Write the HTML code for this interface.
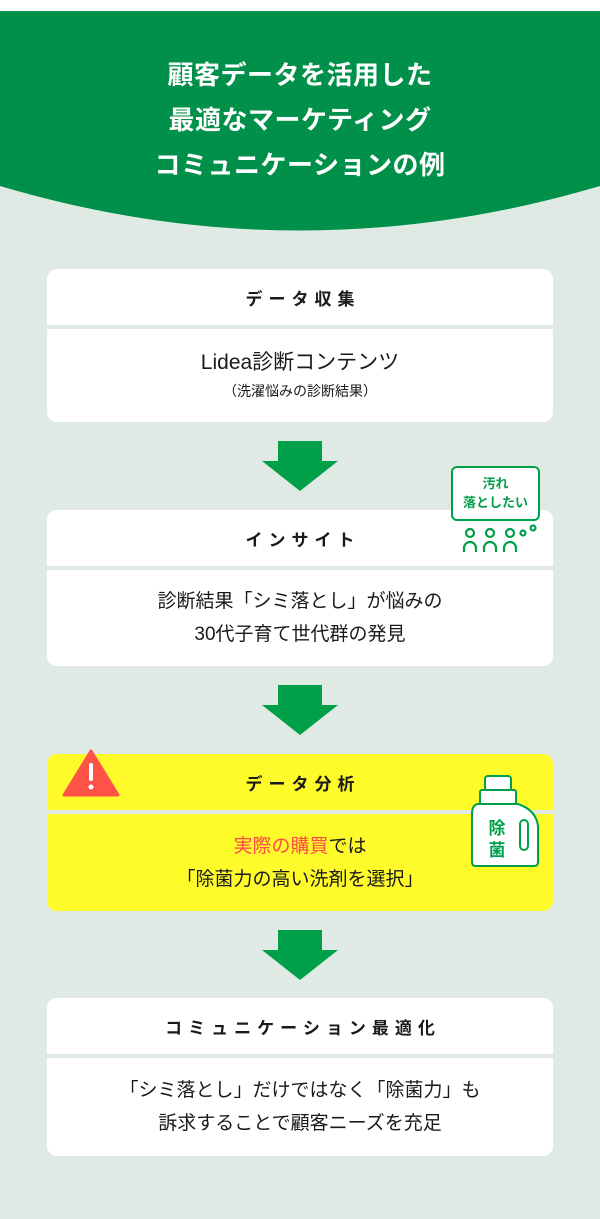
<!DOCTYPE html>
<html><head><meta charset="utf-8"><style>
*{margin:0;padding:0;box-sizing:border-box}
body{width:600px;height:1219px;background:#e0eae5;position:relative;overflow:hidden;font-family:"Liberation Sans","Noto Sans CJK JP",sans-serif;color:#1a1a1a}
.abs{position:absolute}
.box{position:absolute;left:47px;width:506px;background:#fff;border-radius:10px;overflow:hidden}
.box .hd{position:absolute;left:0;right:0;top:0;height:56px;display:flex;align-items:center;justify-content:center;font-weight:bold;font-size:17px;letter-spacing:6px;padding-left:6px}
.box .dv{position:absolute;left:0;right:0;top:56px;height:4px;background:#e0eae5}
.box .bd{position:absolute;left:0;right:0;top:60px;bottom:0;display:flex;flex-direction:column;align-items:center;justify-content:center;text-align:center;font-size:20px;line-height:34px}
.tc{position:absolute;width:600px;text-align:center;color:#fff;font-weight:bold;font-size:26px;letter-spacing:0.5px}
</style></head><body>
<svg class="abs" style="left:0;top:0" width="600" height="240">
<rect x="0" y="0" width="600" height="11" fill="#fff"/>
<path d="M0 11 H600 V186 Q300 275 0 186 Z" fill="#00904a"/>
</svg>
<div class="tc" style="top:55px">顧客データを活用した</div>
<div class="tc" style="top:100px">最適なマーケティング</div>
<div class="tc" style="top:145px">コミュニケーションの例</div>

<div class="box" style="top:269px;height:153px">
<div class="hd">データ収集</div><div class="dv"></div>
<div class="bd"><div style="font-size:21px;line-height:30px">Lidea診断コンテンツ</div><div style="font-size:14px;line-height:26px">（洗濯悩みの診断結果）</div></div>
</div>

<svg class="abs" style="left:262px;top:441px" width="76" height="50"><path d="M16 0H60V20H76L38 50L0 20H16Z" fill="#00a04a"/></svg>

<div class="box" style="top:510px;height:156px">
<div class="hd">インサイト</div><div class="dv"></div>
<div class="bd" style="font-size:19px;line-height:33px"><div>診断結果「シミ落とし」が悩みの</div><div>30代子育て世代群の発見</div></div>
</div>
<div class="abs" style="left:451px;top:466px;width:89px;height:55px;background:#fff;border:2.5px solid #00a04a;border-radius:6px;color:#00a04a;font-weight:bold;font-size:13px;line-height:19px;text-align:center;padding-top:6px">汚れ<br>落としたい</div>
<svg class="abs" style="left:462px;top:524px" width="80" height="30" fill="none" stroke="#00a04a" stroke-width="2.2">
<circle cx="8" cy="9" r="4"/><path d="M2 28V24A6 6 0 0 1 14 24V28"/>
<circle cx="28" cy="9" r="4"/><path d="M22 28V24A6 6 0 0 1 34 24V28"/>
<circle cx="48" cy="9" r="4"/><path d="M42 28V24A6 6 0 0 1 54 24V28"/>
<circle cx="61" cy="9" r="2.5"/><circle cx="71" cy="4" r="2.5"/>
</svg>

<svg class="abs" style="left:262px;top:685px" width="76" height="50"><path d="M16 0H60V20H76L38 50L0 20H16Z" fill="#00a04a"/></svg>

<div class="box" style="top:754px;height:157px;background:#fffb2a">
<div class="hd">データ分析</div><div class="dv"></div>
<div class="bd" style="font-size:19px;line-height:33px"><div><span style="color:#ff4a4a">実際の購買</span>では</div><div>「除菌力の高い洗剤を選択」</div></div>
</div>
<svg class="abs" style="left:62px;top:749px" width="58" height="50"><path d="M29 2L56 46H2Z" fill="#ff5247" stroke="#ff5247" stroke-width="3" stroke-linejoin="round"/><rect x="27" y="14" width="4" height="18" rx="2" fill="#fff"/><circle cx="29" cy="38" r="2.5" fill="#fff"/></svg>
<svg class="abs" style="left:470px;top:774px" width="72" height="94">
<rect x="15" y="2" width="26" height="15" rx="3" fill="#fff" stroke="#00a04a" stroke-width="2"/>
<rect x="10" y="16" width="36" height="14" rx="2" fill="#fff" stroke="#00a04a" stroke-width="2"/>
<path d="M8 30H48Q66 36 68 52V88Q68 92 64 92H6Q2 92 2 88V40Q2 31 8 30Z" fill="#fff" stroke="#00a04a" stroke-width="2"/>
<rect x="50" y="46" width="8" height="30" rx="4" fill="none" stroke="#00a04a" stroke-width="2"/>
<text x="27" y="60" text-anchor="middle" font-size="17" font-weight="bold" fill="#00a04a" font-family="Liberation Sans,Noto Sans CJK JP,sans-serif">除</text>
<text x="27" y="82" text-anchor="middle" font-size="17" font-weight="bold" fill="#00a04a" font-family="Liberation Sans,Noto Sans CJK JP,sans-serif">菌</text>
</svg>

<svg class="abs" style="left:262px;top:930px" width="76" height="50"><path d="M16 0H60V20H76L38 50L0 20H16Z" fill="#00a04a"/></svg>

<div class="box" style="top:998px;height:158px">
<div class="hd">コミュニケーション最適化</div><div class="dv"></div>
<div class="bd" style="font-size:19px;line-height:33px"><div>「シミ落とし」だけではなく「除菌力」も</div><div>訴求することで顧客ニーズを充足</div></div>
</div>
</body></html>
